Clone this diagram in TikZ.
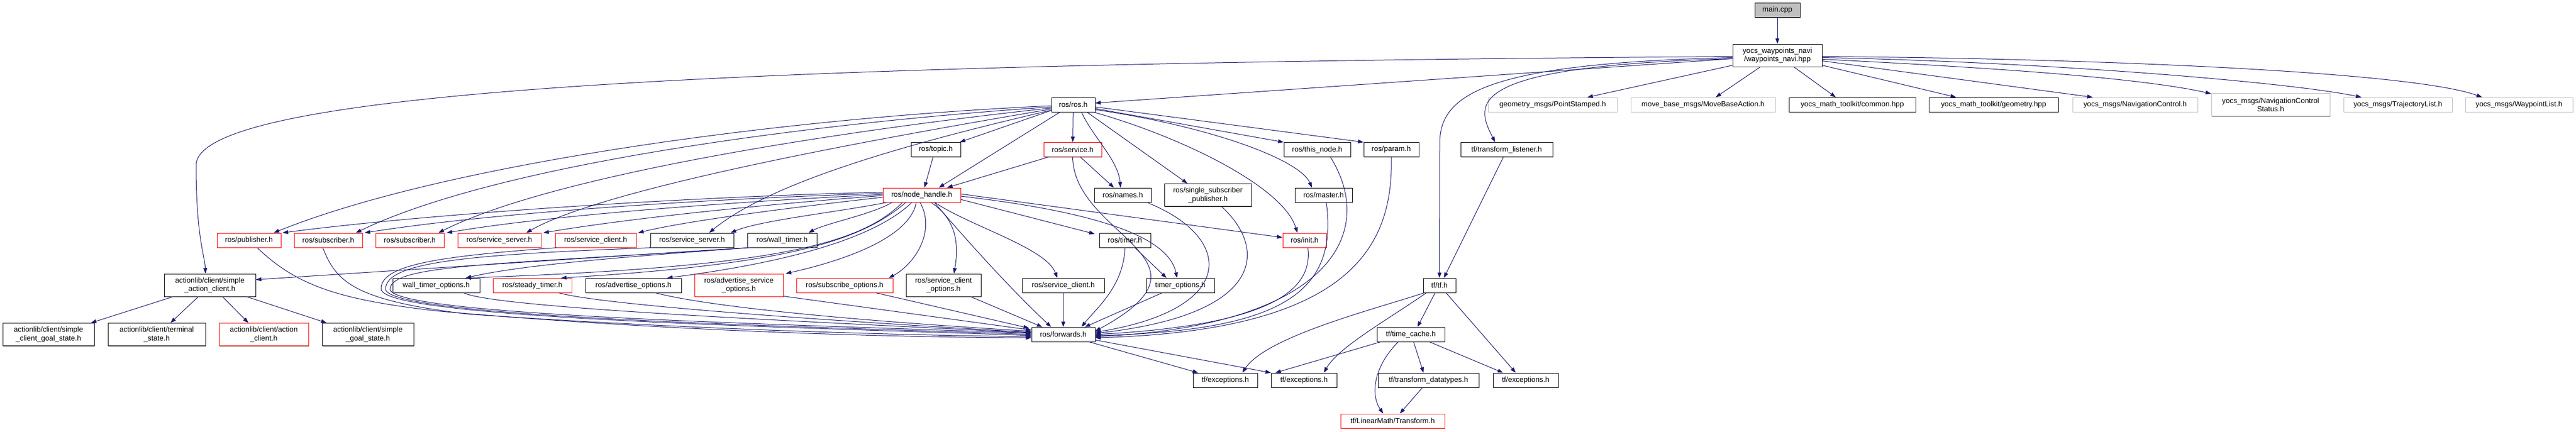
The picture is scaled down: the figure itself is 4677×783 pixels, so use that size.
\documentclass[tikz,border=0pt]{standalone}
\usepackage{fontspec}
\setmainfont{Liberation Sans}
\usetikzlibrary{arrows.meta,calc,shadows}
\definecolor{edgeblue}{RGB}{25,25,112}
\definecolor{nofilegray}{RGB}{191,191,191}
\definecolor{maingray}{RGB}{191,191,191}

\tikzset{
  hfile/.style={draw=black, fill=white, line width=0.75pt, font=\fontsize{10}{11.5}\selectfont,
    align=center, inner sep=1pt, minimum height=19.5pt,
    general shadow={fill=black!45, shadow xshift=0.75pt, shadow yshift=-0.75pt}},
  two/.style={minimum height=30.75pt},
  trunc/.style={draw=red},
  nofile/.style={draw=nofilegray},
  dep/.style={edgeblue, line width=0.75pt, -{Triangle[length=7.5pt,width=5.25pt]}},
}

\begin{document}
\begin{tikzpicture}[x=0.75pt,y=-0.75pt]
\useasboundingbox (0,0) rectangle (4677,783);

% Top
\node[hfile, fill=maingray, minimum width=61.5pt] (main) at (3227,18.5) {main.cpp};
\node[hfile, two, minimum width=121.5pt] (yocs) at (3227,100.5) {yocs\_waypoints\_navi\\/waypoints\_navi.hpp};

% Headers included by the waypoints header
\node[hfile, minimum width=59.25pt] (rosh) at (1948.5,190) {ros/ros.h};
\node[hfile, nofile, minimum width=175.5pt] (pointst) at (2819,190) {geometry\_msgs/PointStamped.h};
\node[hfile, nofile, minimum width=196.5pt] (movebase) at (3092,190) {move\_base\_msgs/MoveBaseAction.h};
\node[hfile, minimum width=172.5pt] (common) at (3363,190) {yocs\_math\_toolkit/common.hpp};
\node[hfile, minimum width=176.25pt] (geometry) at (3619.5,190) {yocs\_math\_toolkit/geometry.hpp};
\node[hfile, nofile, minimum width=170.25pt] (navctrl) at (3876.5,190) {yocs\_msgs/NavigationControl.h};
\node[hfile, nofile, two, minimum width=161.25pt] (navstat) at (4122.5,190) {yocs\_msgs/NavigationControl\\Status.h};
\node[hfile, nofile, minimum width=147.75pt] (trajlist) at (4353.5,190) {yocs\_msgs/TrajectoryList.h};
\node[hfile, nofile, minimum width=146.25pt] (wplist) at (4573.5,190) {yocs\_msgs/WaypointList.h};

% Row 3
\node[hfile, minimum width=67.5pt] (topic) at (1699,271.5) {ros/topic.h};
\node[hfile, trunc, minimum width=78.75pt] (service) at (1947.5,271.5) {ros/service.h};
\node[hfile, minimum width=90.75pt] (thisnode) at (2391.5,271.5) {ros/this\_node.h};
\node[hfile, minimum width=75pt] (param) at (2526,271.5) {ros/param.h};
\node[hfile, minimum width=125.25pt] (tflisten) at (2735.5,271.5) {tf/transform\_listener.h};

% Row 4
\node[hfile, trunc, minimum width=105.75pt] (nodeh) at (1673.5,354) {ros/node\_handle.h};
\node[hfile, minimum width=77.25pt] (names) at (2038.5,354) {ros/names.h};
\node[hfile, two, minimum width=118.5pt] (singlesub) at (2193,354) {ros/single\_subscriber\\\_publisher.h};
\node[hfile, minimum width=78pt] (master) at (2403,354) {ros/master.h};

% Row 5
\node[hfile, trunc, minimum width=87pt] (pub) at (452,436) {ros/publisher.h};
\node[hfile, trunc, minimum width=93pt] (subA) at (596,436) {ros/subscriber.h};
\node[hfile, trunc, minimum width=93pt] (subB) at (744,436) {ros/subscriber.h};
\node[hfile, trunc, minimum width=113.25pt] (srvsrvA) at (906.5,436) {ros/service\_server.h};
\node[hfile, trunc, minimum width=110.25pt] (srvcliA) at (1081.5,436) {ros/service\_client.h};
\node[hfile, minimum width=113.25pt] (srvsrvB) at (1256.5,436) {ros/service\_server.h};
\node[hfile, minimum width=94.5pt] (walltimer) at (1420,436) {ros/wall\_timer.h};
\node[hfile, minimum width=69.75pt] (timer) at (2042.5,436) {ros/timer.h};
\node[hfile, trunc, minimum width=59.25pt] (init) at (2368.5,436) {ros/init.h};

% Row 6
\node[hfile, two, minimum width=124.5pt] (sac) at (381,517.5) {actionlib/client/simple\\\_action\_client.h};
\node[hfile, minimum width=118.5pt] (wtopts) at (792,518) {wall\_timer\_options.h};
\node[hfile, trunc, minimum width=107.25pt] (steady) at (966.5,518) {ros/steady\_timer.h};
\node[hfile, minimum width=130.5pt] (advopts) at (1150,518) {ros/advertise\_options.h};
\node[hfile, trunc, two, minimum width=120.75pt] (advsrv) at (1341.5,517.5) {ros/advertise\_service\\\_options.h};
\node[hfile, trunc, minimum width=131.25pt] (subopts) at (1533.5,518) {ros/subscribe\_options.h};
\node[hfile, two, minimum width=102pt] (srvcliopts) at (1713,517.5) {ros/service\_client\\\_options.h};
\node[hfile, minimum width=111.75pt] (srvcliB) at (1930.5,518) {ros/service\_client.h};
\node[hfile, minimum width=93pt] (timeropts) at (2143,518) {timer\_options.h};
\node[hfile, minimum width=44.25pt] (tfh) at (2613.5,518) {tf/tf.h};

% Row 7
\node[hfile, two, minimum width=124.5pt] (cgs) at (88,607) {actionlib/client/simple\\\_client\_goal\_state.h};
\node[hfile, two, minimum width=132.75pt] (term) at (284.5,607) {actionlib/client/terminal\\\_state.h};
\node[hfile, trunc, two, minimum width=121.5pt] (actcli) at (479,607) {actionlib/client/action\\\_client.h};
\node[hfile, two, minimum width=124.5pt] (sgs) at (668,607) {actionlib/client/simple\\\_goal\_state.h};
\node[hfile, minimum width=86.25pt] (fwd) at (1930.5,607) {ros/forwards.h};
\node[hfile, minimum width=92.25pt] (tcache) at (2561.5,607) {tf/time\_cache.h};

% Row 8 and 9
\node[hfile, minimum width=87.75pt] (exA) at (2224.5,690) {tf/exceptions.h};
\node[hfile, minimum width=89.25pt] (exB) at (2367.5,690) {tf/exceptions.h};
\node[hfile, minimum width=137.25pt] (tfdt) at (2593.5,690) {tf/transform\_datatypes.h};
\node[hfile, minimum width=88.5pt] (exC) at (2770,690) {tf/exceptions.h};
\node[hfile, trunc, minimum width=141.75pt] (lmt) at (2528.5,764) {tf/LinearMath/Transform.h};

% main.cpp
\draw[dep] (main) -- (yocs);

% yocs_waypoints_navi/waypoints_navi.hpp
\draw[dep] ($(yocs.west)+(0,2)$) .. controls (1400,115) and (356,160) .. (356,300) .. controls (356,430) and (372,465) .. ($(sac.north)+(-8,0)$);
\draw[dep] ($(yocs.west)+(0,6)$) -- ($(rosh.east)+(0,-3)$);
\draw[dep] ($(yocs.south west)+(0,-3)$) -- ($(pointst.north)+(63,0)$);
\draw[dep] ($(yocs.south)+(-31,0)$) -- ($(movebase.north)+(23,0)$);
\draw[dep] ($(yocs.south)+(30,0)$) -- ($(common.north)+(-30,0)$);
\draw[dep] ($(yocs.south east)+(0,-3)$) -- ($(geometry.north)+(-68,0)$);
\draw[dep] ($(yocs.east)+(0,10)$) -- ($(navctrl.north)+(-77,0)$);
\draw[dep] ($(yocs.east)+(0,7)$) .. controls (3600,122) and (3880,140) .. ($(navstat.north west)+(0,1)$);
\draw[dep] ($(yocs.east)+(0,4)$) .. controls (3700,112) and (4150,148) .. ($(trajlist.north)+(-66,0)$);
\draw[dep] ($(yocs.east)+(0,2)$) .. controls (3800,106) and (4380,130) .. ($(wplist.north)+(-67,0)$);
\draw[dep] ($(yocs.west)+(0,4)$) .. controls (2700,115) and (2614,170) .. (2614,260) -- (tfh.north);
\draw[dep] ($(yocs.west)+(0,6)$) .. controls (2650,120) and (2680,190) .. ($(tflisten.north)+(-21,0)$);
\draw[dep] ($(tflisten.south)+(-6,0)$) -- ($(tfh.north)+(8,0)$);

% ros/ros.h
\draw[dep] ($(rosh.west)+(0,2)$) .. controls (1400,215) and (800,300) .. ($(pub.north)+(45,0)$);
\draw[dep] ($(rosh.west)+(0,4)$) .. controls (1450,225) and (900,300) .. ($(subA.north)+(50,0)$);
\draw[dep] ($(rosh.west)+(0,6)$) .. controls (1500,240) and (1000,320) .. ($(subB.north)+(52,0)$);
\draw[dep] ($(rosh.west)+(0,8)$) .. controls (1600,250) and (1100,340) .. ($(srvsrvA.north)+(49,0)$);
\draw[dep] ($(rosh.west)+(0,10)$) .. controls (1650,260) and (1400,330) .. ($(srvsrvB.north)+(31,0)$);
\draw[dep] ($(rosh.south west)+(0,-3)$) -- ($(topic.north east)+(-2,0)$);
\draw[dep] ($(rosh.south)+(-24,0)$) -- ($(nodeh.north)+(31,0)$);
\draw[dep] (rosh) -- (service);
\draw[dep] ($(rosh.south)+(15,0)$) .. controls (1985,250) and (2030,290) .. ($(names.north)+(-4,0)$);
\draw[dep] ($(rosh.south)+(25,0)$) -- ($(singlesub.north)+(-37,0)$);
\draw[dep] ($(rosh.south east)+(-3,0)$) .. controls (2150,250) and (2330,340) .. ($(init.north)+(-13,0)$);
\draw[dep] ($(rosh.east)+(0,9)$) .. controls (2200,230) and (2360,290) .. ($(master.north)+(-21,0)$);
\draw[dep] ($(rosh.east)+(0,7)$) -- (thisnode.north west);
\draw[dep] ($(rosh.east)+(0,4)$) -- (param.north west);

% topic / service
\draw[dep] ($(topic.south)+(-5,0)$) -- ($(nodeh.north)+(5,0)$);
\draw[dep] ($(service.south west)+(9,0)$) -- ($(nodeh.north)+(46,0)$);
\draw[dep] ($(service.south)+(14,0)$) -- ($(names.north)+(-16,0)$);

% ros/node_handle.h
\draw[dep] ($(nodeh.west)+(0,-5)$) .. controls (1300,355) and (800,385) .. ($(pub.north)+(61,0)$);
\draw[dep] ($(nodeh.west)+(0,-3)$) .. controls (1300,360) and (900,385) .. ($(subA.north)+(66,0)$);
\draw[dep] ($(nodeh.west)+(0,-1)$) .. controls (1350,365) and (1000,390) .. ($(subB.north)+(67,0)$);
\draw[dep] ($(nodeh.west)+(0,1)$) .. controls (1400,370) and (1150,395) .. ($(srvsrvA.north)+(80,0)$);
\draw[dep] ($(nodeh.west)+(0,4)$) .. controls (1450,375) and (1250,400) .. ($(srvcliA.north)+(77,0)$);
\draw[dep] ($(nodeh.south west)+(7,0)$) .. controls (1520,385) and (1380,400) .. ($(srvsrvB.north)+(70,0)$);
\draw[dep] ($(nodeh.south west)+(17,0)$) .. controls (1580,390) and (1500,405) .. ($(walltimer.north)+(48,0)$);
\draw[dep] ($(nodeh.east)+(0,8)$) -- ($(timer.north west)+(-8,2)$);
\draw[dep] ($(nodeh.east)+(0,-2)$) -- ($(init.west)+(0,-5)$);
\draw[dep] ($(nodeh.east)+(0,2)$) .. controls (1950,380) and (2120,420) .. ($(timeropts.north)+(-6,0)$);
\draw[dep] ($(nodeh.south)+(24,0)$) .. controls (1760,410) and (1900,450) .. ($(srvcliB.north)+(-11,0)$);
\draw[dep] ($(nodeh.south)+(17,0)$) .. controls (1740,400) and (1740,450) .. ($(srvcliopts.north)+(19,0)$);
\draw[dep] ($(nodeh.south)+(-3,0)$) .. controls (1700,420) and (1660,480) .. ($(subopts.north)+(80,0)$);
\draw[dep] ($(nodeh.south)+(-10,0)$) .. controls (1650,440) and (1500,480) .. ($(advsrv.north)+(85,0)$);
\draw[dep] ($(nodeh.south)+(-18,0)$) .. controls (1580,440) and (1400,480) .. ($(advopts.north)+(61,0)$);
\draw[dep] ($(nodeh.south)+(-29,0)$) .. controls (1560,440) and (1420,480) .. ($(steady.north)+(52,0)$);
\draw[dep] ($(nodeh.south)+(-35,0)$) .. controls (1560,445) and (1400,485) .. ($(wtopts.north)+(53,0)$);
\draw[dep] ($(nodeh.south)+(23,0)$) .. controls (1750,430) and (1830,520) .. ($(fwd.north)+(-22,0)$);

% ros/timer.h, ros/wall_timer.h
\draw[dep] ($(timer.south)+(18,0)$) -- ($(timeropts.north)+(-25,0)$);
\draw[dep] ($(walltimer.south west)+(3,0)$) .. controls (1150,465) and (950,480) .. ($(wtopts.north east)+(-26,0)$);
\draw[dep] ($(walltimer.south west)+(1,0)$) -- ($(sac.east)+(0,-10)$);

% into ros/forwards.h from the left
\draw[dep] ($(pub.south)+(15,0)$) .. controls (540,520) and (620,545) .. (800,565) .. controls (1200,600) and (1600,612) .. ($(fwd.west)+(0,6)$);
\draw[dep] ($(subA.south)+(-10,0)$) .. controls (610,510) and (640,545) .. (850,570) .. controls (1200,595) and (1600,608) .. ($(fwd.west)+(0,4)$);
\draw[dep] ($(srvcliA.south west)+(4,0)$) .. controls (800,465) and (690,480) .. (692,525) .. controls (700,580) and (1500,595) .. ($(fwd.west)+(0,2)$);
\draw[dep] ($(srvsrvB.south west)+(4,0)$) .. controls (850,462) and (700,475) .. (700,525) .. controls (708,578) and (1500,593) .. (fwd.west);
\draw[dep] ($(walltimer.south west)+(6,0)$) .. controls (900,480) and (710,480) .. (708,525) .. controls (715,575) and (1500,590) .. ($(fwd.west)+(0,-2)$);
\draw[dep] ($(wtopts.south)+(50,0)$) .. controls (900,560) and (1500,585) .. ($(fwd.west)+(0,-3)$);
\draw[dep] ($(steady.south)+(48,0)$) .. controls (1100,555) and (1550,585) .. ($(fwd.west)+(0,-4)$);
\draw[dep] ($(advopts.south)+(40,0)$) .. controls (1300,560) and (1600,585) .. ($(fwd.west)+(0,-6)$);
\draw[dep] ($(advsrv.south east)+(0,-1)$) -- ($(fwd.west)+(0,-8)$);
\draw[dep] ($(subopts.south)+(57,0)$) -- ($(fwd.north west)+(-4,2)$);

% into ros/forwards.h from above
\draw[dep] ($(srvcliopts.south east)+(-19,0)$) -- ($(fwd.north)+(-38,0)$);
\draw[dep] (srvcliB) -- (fwd);
\draw[dep] (timer.south) .. controls (2040,520) and (1990,560) .. ($(fwd.north)+(33,0)$);
\draw[dep] ($(timeropts.south)+(-33,0)$) -- ($(fwd.north)+(39,0)$);

% into ros/forwards.h from the right
\draw[dep] (service.south) .. controls (1950,430) and (2230,470) .. ($(fwd.east)+(0,-6)$);
\draw[dep] ($(names.south east)+(-8,0)$) .. controls (2240,430) and (2250,560) .. ($(fwd.east)+(0,-4)$);
\draw[dep] ($(singlesub.south)+(25,0)$) .. controls (2300,450) and (2300,570) .. ($(fwd.east)+(0,-2)$);
\draw[dep] ($(init.south)+(6,0)$) .. controls (2385,530) and (2300,590) .. (fwd.east);
\draw[dep] ($(master.south)+(5,0)$) .. controls (2430,530) and (2330,600) .. ($(fwd.east)+(0,2)$);
\draw[dep] ($(thisnode.south)+(24,0)$) .. controls (2500,420) and (2420,590) .. ($(fwd.east)+(0,4)$);
\draw[dep] (param.south) .. controls (2530,450) and (2450,600) .. ($(fwd.east)+(0,6)$);

% ros/forwards.h
\draw[dep] ($(fwd.south east)+(-11,0)$) -- ($(exA.north)+(-49,0)$);
\draw[dep] ($(fwd.east)+(0,10)$) -- (exB.north west);

% actionlib/client/simple_action_client.h
\draw[dep] ($(sac.south)+(-67,0)$) -- ($(cgs.north)+(77,0)$);
\draw[dep] ($(sac.south)+(-21,0)$) -- ($(term.north)+(25,0)$);
\draw[dep] ($(sac.south)+(23,0)$) -- ($(actcli.north)+(-28,0)$);
\draw[dep] ($(sac.south)+(67,0)$) -- ($(sgs.north)+(-75,0)$);

% tf/tf.h
\draw[dep] ($(tfh.south)+(-8,0)$) -- ($(tcache.north)+(12,0)$);
\draw[dep] ($(tfh.south)+(12,0)$) -- ($(exC.north)+(-18,0)$);
\draw[dep] ($(tfh.south west)+(2,0)$) .. controls (2500,560) and (2300,610) .. ($(exA.north)+(31,0)$);
\draw[dep] ($(tfh.south west)+(6,0)$) .. controls (2520,580) and (2430,630) .. ($(exB.north)+(36,0)$);

% tf/time_cache.h
\draw[dep] ($(tcache.south west)+(7,0)$) -- ($(exB.north west)+(8,0)$);
\draw[dep] ($(tcache.south)+(5,0)$) -- ($(tfdt.north)+(-9,0)$);
\draw[dep] ($(tcache.south east)+(-28,0)$) -- ($(exC.north)+(-41,0)$);
\draw[dep] ($(tcache.south)+(-23,0)$) .. controls (2490,670) and (2490,720) .. ($(lmt.north)+(-17,0)$);
\draw[dep] ($(tfdt.south)+(-11,0)$) -- ($(lmt.north)+(13,0)$);

\end{tikzpicture}
\end{document}
